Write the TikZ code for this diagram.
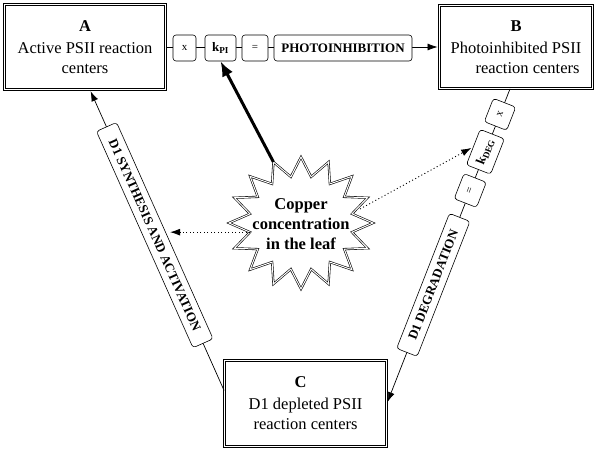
\documentclass[tikz,border=0pt]{standalone}
\usepackage{fontspec}
\setmainfont{Liberation Serif}
\usetikzlibrary{arrows.meta,calc}
\begin{document}
\begin{tikzpicture}[x=1pt,y=-1pt,
  mainbox/.style={draw, double, double distance=1.3pt, line width=0.8pt, align=center, inner sep=0pt, font=\fontsize{16.5}{20}\selectfont},
  chip/.style={draw, fill=white, rounded corners=3pt, line width=0.6pt, inner sep=1pt, font=\fontsize{11}{13}\selectfont},
  bchip/.style={chip, font=\bfseries\fontsize{13}{15}\selectfont},
  arr/.style={line width=0.7pt, -{Latex[length=10pt,width=7pt]}},
  dotarr/.style={line width=0.9pt, dash pattern=on 1pt off 2.5pt, -{Latex[length=10pt,width=7pt]}},
  thickarr/.style={line width=3pt, -{Latex[length=15pt,width=12pt]}},
  starline/.style={draw, double, double distance=1pt, line width=0.6pt, fill=white}
]
\useasboundingbox (0,0) rectangle (597,453);
\fill[white] (0,0) rectangle (597,453);

% main boxes
\node[mainbox, minimum width=161pt, minimum height=85pt] (A) at (85,47)
  {\textbf{A}\\[2pt]Active PSII reaction\\centers};
\node[mainbox, minimum width=153pt, minimum height=83pt] (B) at (516,47)
  {\textbf{B}\\[2pt]Photoinhibited PSII\\\hspace*{23pt}reaction centers};
\node[mainbox, minimum width=162pt, minimum height=86pt] (C) at (305.5,403.5)
  {\textbf{C}\hspace*{10pt}\\[2pt]D1 depleted PSII\hspace*{10pt}\\reaction centers};

% top chain A -> B
\draw[arr, shorten >=1.5pt] (A.east) -- (B.west);
\node[chip, minimum width=23pt, minimum height=26pt] (tx) at (184.5,48) {x};
\node[bchip, minimum width=31pt, minimum height=26pt] (kpi) at (220.5,48) {k\textsubscript{PI}};
\node[chip, minimum width=26pt, minimum height=26pt] (teq) at (255,48) {=};
\node[bchip, minimum width=138pt, minimum height=26pt] (photo) at (343,48) {PHOTOINHIBITION};

% right chain B -> C
\coordinate (Bs) at ([xshift=-6pt]B.south);
\draw[arr, shorten >=1.5pt] (Bs) -- (C.east);
\path (Bs) -- (C.east)
  node[chip, sloped, pos=0.081, minimum width=25pt, minimum height=24pt] (rx) {x}
  node[bchip, sloped, pos=0.2, minimum width=38pt, minimum height=26pt] (kdeg) {k\textsubscript{DEG}}
  node[chip, sloped, pos=0.323, minimum width=27pt, minimum height=24pt] (req) {=}
  node[bchip, sloped, pos=0.623, minimum width=145pt, minimum height=22pt] (deg) {D1 DEGRADATION};

% left chain C -> A
\coordinate (Al) at ([xshift=5pt]A.south);
\coordinate (Cl) at ([yshift=13pt]C.west);
\draw[arr, shorten >=1.5pt] (Cl) -- (Al);
\path (Cl) -- (Al)
  node[bchip, sloped, pos=0.517, minimum width=237pt, minimum height=22pt] (syn) {D1 SYNTHESIS AND ACTIVATION};

% star
\draw[starline] (301,157) \foreach \i in {0,...,15} {
  -- ({301+52*cos(101.25+\i*22.5)},{223-47*sin(101.25+\i*22.5)})
  -- ({301+72*cos(112.5+\i*22.5)},{223-66*sin(112.5+\i*22.5)}) } -- cycle;
\node[font=\bfseries\fontsize{16.5}{20}\selectfont, align=center, inner sep=0pt] (cu) at (301,224)
  {Copper\\concentration\\in the leaf};
\coordinate (cuTL) at ({301+72*cos(112.5)},{223-66*sin(112.5)});
\coordinate (cuL) at ({301+52*cos(191.25)},{223-47*sin(191.25)});
\coordinate (cuR) at (360,209);

% influences
\draw[thickarr] (cuTL) -- (kpi.south);
\draw[dotarr, shorten >=5pt] (cuL) -- (cuL -| syn.north);
\draw[dotarr, shorten >=2pt] (cuR) -- (kdeg.north);
\end{tikzpicture}
\end{document}
